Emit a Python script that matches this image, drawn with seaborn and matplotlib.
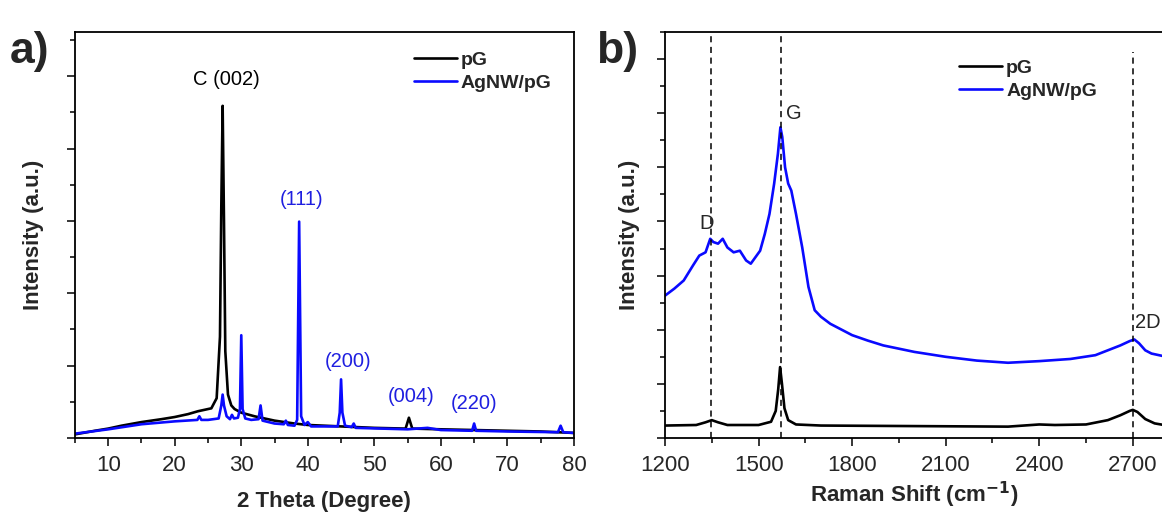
import numpy as np
import pandas as pd
import seaborn as sns
import matplotlib.pyplot as plt
from matplotlib.ticker import MultipleLocator

# ---- panel a: XRD
xrd_pg_x = [5, 8, 10, 12, 15, 18, 20, 22, 23.5, 24.5, 25.5, 26.3, 26.8, 27.0, 27.2, 27.4,
            27.6, 28.0, 28.5, 29, 30, 32, 35, 38, 40, 45, 50, 54.7, 55.2, 55.7, 60, 65, 70, 75, 80]
xrd_pg_y = [0.05, 0.10, 0.13, 0.17, 0.22, 0.26, 0.29, 0.33, 0.37, 0.39, 0.41, 0.55, 1.4, 3.2,
            4.59, 3.0, 1.2, 0.6, 0.45, 0.40, 0.35, 0.30, 0.24, 0.20, 0.18, 0.16, 0.14, 0.13,
            0.28, 0.13, 0.12, 0.11, 0.10, 0.09, 0.07]

xrd_ag_x = [5, 10, 15, 20, 23.4, 23.7, 24.0, 25, 26.6, 27.0, 27.2, 27.4, 27.8, 28.3, 28.6,
            28.9, 29.5, 29.8, 30.0, 30.2, 30.6, 31.5, 32.6, 32.9, 33.2, 35, 36.4, 36.7, 37.0,
            38.0, 38.4, 38.7, 39.0, 39.5, 40.0, 40.5, 44.5, 44.8, 45.0, 45.2, 45.6, 46.6, 46.9,
            47.2, 55, 58, 60, 64.7, 65.0, 65.3, 70, 77.6, 78.0, 78.4, 80]
xrd_ag_y = [0.06, 0.12, 0.19, 0.23, 0.25, 0.30, 0.25, 0.25, 0.27, 0.45, 0.60, 0.45, 0.30,
            0.26, 0.32, 0.27, 0.28, 0.40, 1.42, 0.40, 0.27, 0.25, 0.26, 0.45, 0.24, 0.20, 0.19,
            0.24, 0.18, 0.17, 0.25, 2.99, 0.30, 0.18, 0.22, 0.16, 0.16, 0.35, 0.81, 0.35,
            0.17, 0.15, 0.20, 0.14, 0.12, 0.14, 0.11, 0.10, 0.20, 0.10, 0.09, 0.08, 0.17,
            0.08, 0.07]

xrd_labels = ["C (002)", "(111)", "(200)", "(004)", "(220)"]
xrd_label_x = [27.7, 39.1, 46.0, 55.5, 65.0]
xrd_label_y = [4.95, 3.30, 1.06, 0.57, 0.47]
xrd_label_color = ["black", "#1f1fe0", "#1f1fe0", "#1f1fe0", "#1f1fe0"]

# ---- panel b: Raman
ram_pg_x = [1200, 1300, 1330, 1350, 1370, 1400, 1500, 1540, 1555, 1563, 1569, 1575, 1583,
            1595, 1620, 1700, 2000, 2300, 2400, 2450, 2550, 2620, 2660, 2690, 2700, 2715,
            2740, 2770, 2800]
ram_pg_y = [0.23, 0.24, 0.29, 0.33, 0.29, 0.24, 0.24, 0.30, 0.50, 0.90, 1.31, 1.00, 0.55,
            0.33, 0.25, 0.23, 0.22, 0.21, 0.25, 0.24, 0.25, 0.33, 0.42, 0.50, 0.52, 0.48,
            0.35, 0.27, 0.24]

ram_ag_x = [1200, 1230, 1260, 1290, 1310, 1330, 1345, 1355, 1370, 1385, 1400, 1420, 1440,
            1460, 1475, 1490, 1505, 1520, 1535, 1550, 1562, 1570, 1576, 1585, 1595, 1605,
            1620, 1640, 1660, 1680, 1700, 1730, 1760, 1800, 1850, 1900, 1950, 2000, 2100,
            2200, 2300, 2400, 2500, 2580, 2620, 2660, 2690, 2705, 2720, 2740, 2760, 2800]
ram_ag_y = [2.63, 2.76, 2.91, 3.19, 3.37, 3.43, 3.68, 3.62, 3.59, 3.68, 3.52, 3.43, 3.46,
            3.28, 3.22, 3.34, 3.46, 3.77, 4.14, 4.70, 5.25, 5.74, 5.56, 5.00, 4.70, 4.57,
            4.14, 3.52, 2.79, 2.36, 2.24, 2.11, 2.02, 1.90, 1.80, 1.71, 1.65, 1.59, 1.50,
            1.43, 1.39, 1.42, 1.46, 1.53, 1.62, 1.71, 1.79, 1.82, 1.75, 1.62, 1.56, 1.51]

ram_bands = ["D", "G", "2D"]
ram_band_x = [1348, 1572, 2700]
ram_band_top = [7.5, 7.5, 7.13]
ram_label_x = [1332, 1613, 2747]
ram_label_y = [3.96, 6.0, 2.14]

sns.set_style("ticks")
plt.rcParams['font.family'] = ['Liberation Sans', 'DejaVu Sans']
plt.rcParams['axes.linewidth'] = 1.3

blue = "#0a0aff"

def make_df(x1, y1, x2, y2):
    a = pd.DataFrame({"x": x1, "y": y1, "s": "pG"})
    b = pd.DataFrame({"x": x2, "y": y2, "s": "AgNW/pG"})
    return pd.concat([a, b], ignore_index=True)

def style_axis(ax):
    ax.tick_params(axis='both', which='major', direction='out', length=6, width=1.3,
                   labelsize=16, pad=6, top=False, right=False)
    ax.tick_params(axis='both', which='minor', direction='out', length=3.5, width=1.3,
                   top=False, right=False)
    ax.set_yticklabels([])
    for s in ax.spines.values():
        s.set_visible(True)
        s.set_color("black")

fig = plt.figure(figsize=(11.62, 5.13), dpi=100)
ax1 = fig.add_axes([0.0645, 0.1462, 0.4294, 0.7914])
ax2 = fig.add_axes([0.5723, 0.1462, 0.4294, 0.7914])

# panel a
df_a = make_df(xrd_pg_x, xrd_pg_y, xrd_ag_x, xrd_ag_y)
sns.lineplot(data=df_a, x="x", y="y", hue="s", palette={"pG": "black", "AgNW/pG": blue},
             sort=False, estimator=None, linewidth=1.9, ax=ax1)
ax1.set_xlim(5, 80)
ax1.set_ylim(0, 5.61)
ax1.xaxis.set_major_locator(MultipleLocator(10))
ax1.xaxis.set_minor_locator(MultipleLocator(5))
ax1.yaxis.set_major_locator(MultipleLocator(1))
ax1.yaxis.set_minor_locator(MultipleLocator(0.5))
style_axis(ax1)
ax1.set_xlabel("2 Theta (Degree)", fontsize=16, fontweight='bold', labelpad=11)
ax1.set_ylabel("Intensity (a.u.)", fontsize=16, fontweight='bold', labelpad=10)
for t, x, y, c in zip(xrd_labels, xrd_label_x, xrd_label_y, xrd_label_color):
    ax1.text(x, y, t, color=c, fontsize=14.5, ha='center', va='center')
ax1.legend(loc='upper left', bbox_to_anchor=(0.645, 0.995), frameon=False,
           handlelength=2.2, handletextpad=0.2, labelspacing=0.25,
           prop={'size': 14, 'weight': 'bold'})

# panel b
df_b = make_df(ram_pg_x, ram_pg_y, ram_ag_x, ram_ag_y)
sns.lineplot(data=df_b, x="x", y="y", hue="s", palette={"pG": "black", "AgNW/pG": blue},
             sort=False, estimator=None, linewidth=1.9, ax=ax2)
ax2.set_xlim(1200, 2800)
ax2.set_ylim(0, 7.5)
ax2.set_xticks([1200, 1500, 1800, 2100, 2400, 2700])
ax2.xaxis.set_minor_locator(MultipleLocator(150))
ax2.yaxis.set_major_locator(MultipleLocator(1))
ax2.yaxis.set_minor_locator(MultipleLocator(0.5))
style_axis(ax2)
for bx, top in zip(ram_band_x, ram_band_top):
    ax2.plot([bx, bx], [0, top], ls=(0, (4, 3)), color="black", lw=1.1)
for t, x, y in zip(ram_bands, ram_label_x, ram_label_y):
    ax2.text(x, y, t, fontsize=14.5, ha='center', va='center')
ax2.set_xlabel("Raman Shift (cm$^{\\mathbf{-1}}$)", fontsize=16, fontweight='bold', labelpad=3)
ax2.set_ylabel("Intensity (a.u.)", fontsize=16, fontweight='bold', labelpad=6)
ax2.legend(loc='upper left', bbox_to_anchor=(0.555, 0.975), frameon=False,
           handlelength=2.2, handletextpad=0.2, labelspacing=0.25,
           prop={'size': 14, 'weight': 'bold'})

fig.text(0.008, 0.90, "a)", fontsize=32, fontweight='bold', va='center')
fig.text(0.513, 0.90, "b)", fontsize=32, fontweight='bold', va='center')

fig.savefig("out.png", dpi=100)
